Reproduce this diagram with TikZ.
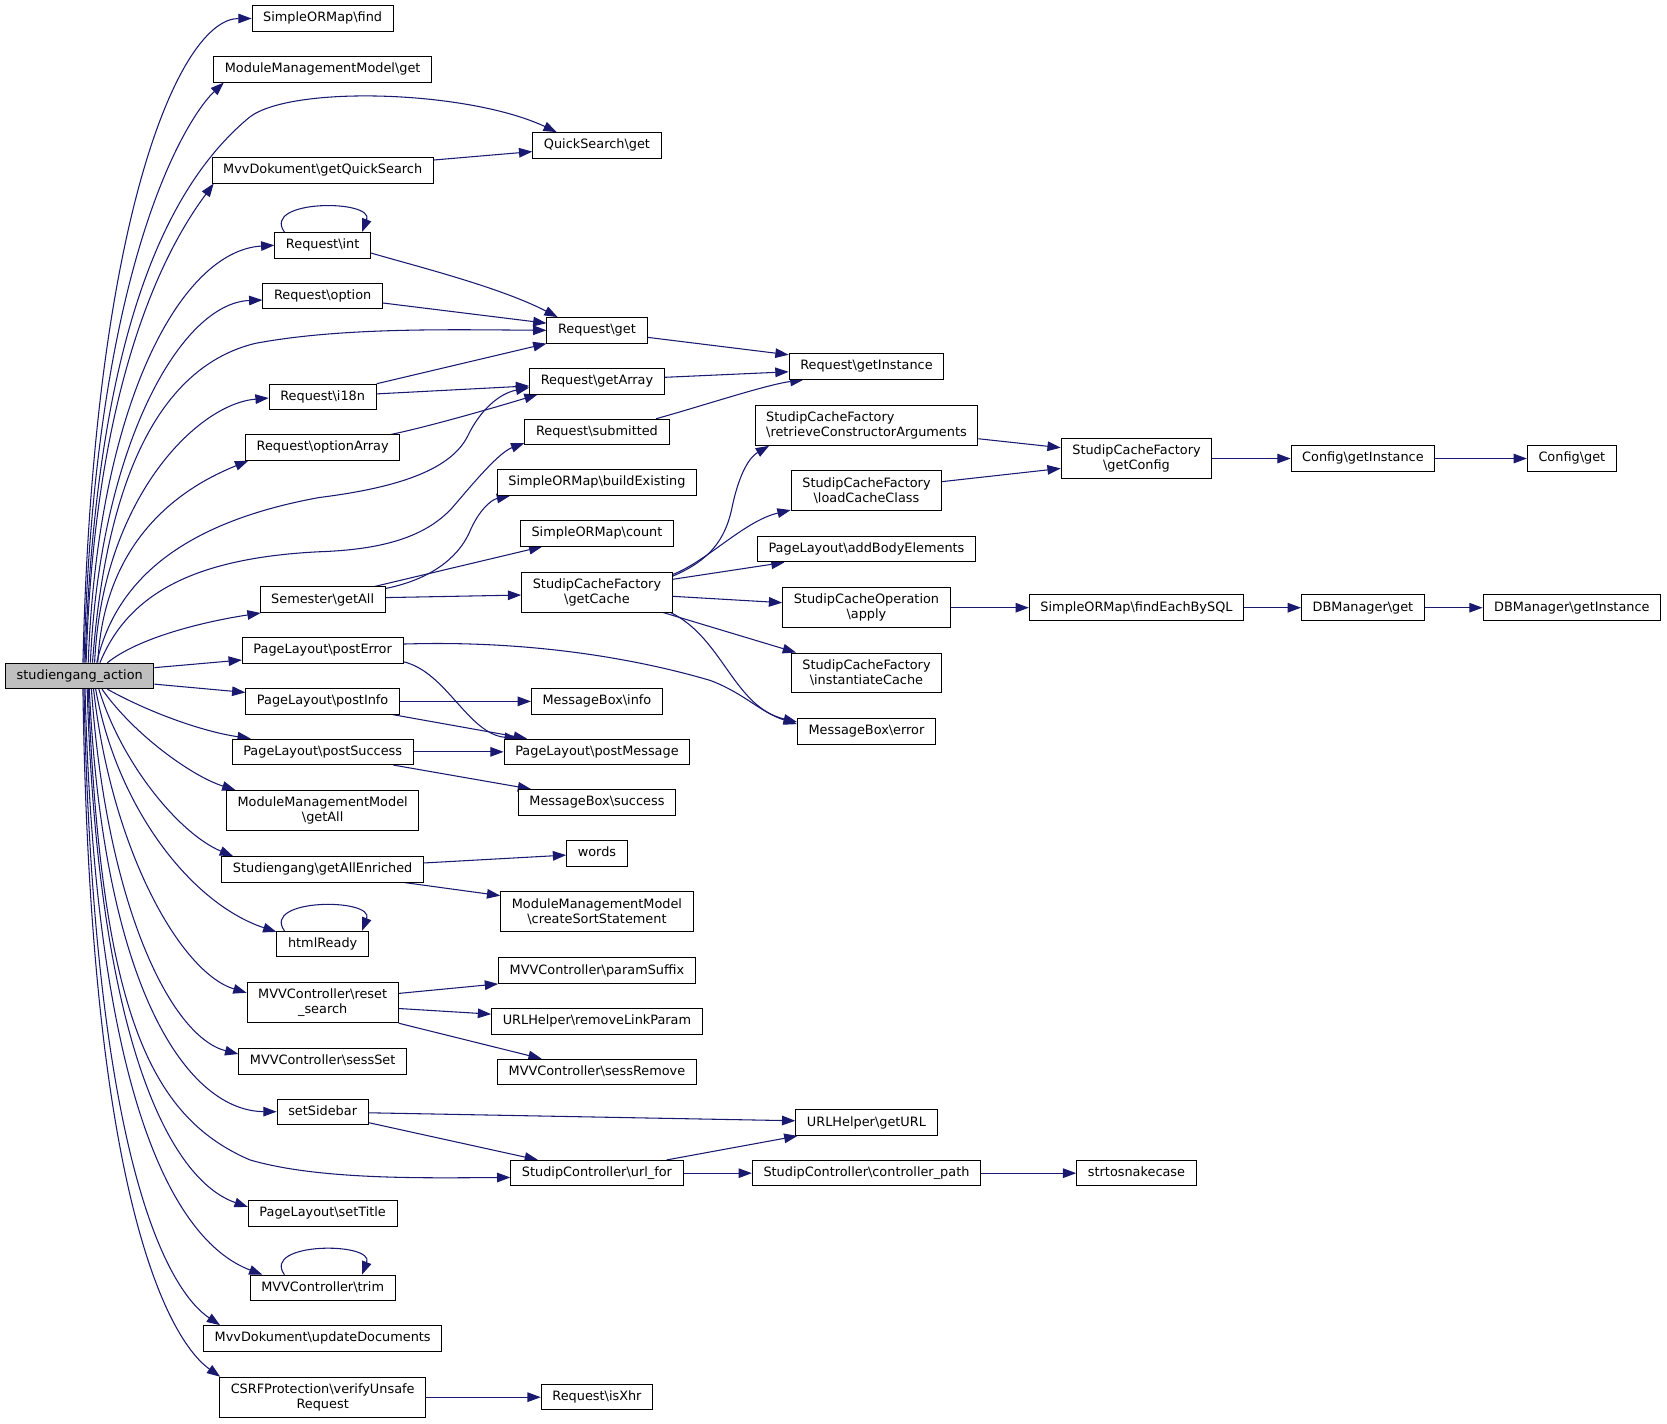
\documentclass[tikz,border=0pt]{standalone}
\usepackage{fontspec}
\setmainfont{DejaVu Sans}
\usetikzlibrary{arrows.meta,calc}
\pgfdeclarelayer{background}
\pgfsetlayers{background,main}
\definecolor{edgeblue}{HTML}{191970}
\definecolor{rootgray}{HTML}{BFBFBF}
\newcommand{\bs}{\textbackslash}
\tikzset{
  box/.style={draw=black, line width=0.9pt, fill=white, inner xsep=10.5pt, inner ysep=0pt,
    minimum height=24pt, text height=9.3pt, text depth=2.9pt,
    font=\fontsize{12.1pt}{14pt}\selectfont},
  boxtwo/.style={draw=black, line width=0.9pt, fill=white, inner xsep=10.5pt, inner ysep=0pt,
    minimum height=37.6pt, align=center, font=\fontsize{12.1pt}{14pt}\selectfont},
  edge/.style={draw=edgeblue, line width=1pt, -{Triangle[length=12.5pt,width=9pt]}}
}
\begin{document}
\begin{tikzpicture}[x=1pt,y=-1pt]
\useasboundingbox (0,0) rectangle (1568,1338.6);
% root
\node[box, fill=rootgray] (root) at (75,635.8) {studiengang\_action};
% column 1
\node[box] (find) at (303.5,17.4) {SimpleORMap\bs find};
\node[box] (mmget) at (303.5,65.2) {ModuleManagementModel\bs get};
\node[box] (getQS) at (303.5,160.2) {MvvDokument\bs getQuickSearch};
\node[box] (int) at (303.5,230.7) {Request\bs int};
\node[box] (option) at (303.5,278.2) {Request\bs option};
\node[box] (i18n) at (303.5,373.4) {Request\bs i18n};
\node[box] (optionArray) at (303.5,421) {Request\bs optionArray};
\node[box] (semGetAll) at (303.5,564.1) {Semester\bs getAll};
\node[box] (postError) at (303.5,611.8) {PageLayout\bs postError};
\node[box] (postInfo) at (303.5,659.7) {PageLayout\bs postInfo};
\node[box] (postSuccess) at (303.5,707.2) {PageLayout\bs postSuccess};
\node[boxtwo] (mmgetAll) at (303.5,762.4) {ModuleManagementModel\\\bs getAll};
\node[box] (enriched) at (303.5,817.7) {Studiengang\bs getAllEnriched};
\node[box] (htmlReady) at (303.5,888) {htmlReady};
\node[boxtwo] (reset) at (303.5,943.2) {MVVController\bs reset\\\_search};
\node[box] (sessSet) at (303.5,998.4) {MVVController\bs sessSet};
\node[box] (setSidebar) at (303.5,1045.7) {setSidebar};
\node[box] (setTitle) at (303.5,1141.2) {PageLayout\bs setTitle};
\node[box] (trim) at (303.5,1211.4) {MVVController\bs trim};
\node[box] (updateDocs) at (303.5,1258.9) {MvvDokument\bs updateDocuments};
\node[boxtwo] (verify) at (303.5,1314.2) {CSRFProtection\bs verifyUnsafe\\Request};
% column 2
\node[box] (QSget) at (561.5,136.7) {QuickSearch\bs get};
\node[box] (Rget) at (561.5,310.7) {Request\bs get};
\node[box] (getArray) at (561.5,358.6) {Request\bs getArray};
\node[box] (submitted) at (561.5,406.3) {Request\bs submitted};
\node[box] (buildExisting) at (561.5,453.9) {SimpleORMap\bs buildExisting};
\node[box] (count) at (561.5,501.7) {SimpleORMap\bs count};
\node[boxtwo] (getCache) at (561.5,556.9) {StudipCacheFactory\\\bs getCache};
\node[box] (mbInfo) at (561.5,659.7) {MessageBox\bs info};
\node[box] (postMessage) at (561.5,707.2) {PageLayout\bs postMessage};
\node[box] (mbSuccess) at (561.5,754.7) {MessageBox\bs success};
\node[box] (words) at (561.5,802.6) {words};
\node[boxtwo] (createSort) at (561.5,857.7) {ModuleManagementModel\\\bs createSortStatement};
\node[box] (paramSuffix) at (561.5,913) {MVVController\bs paramSuffix};
\node[box] (removeLink) at (561.5,960.6) {URLHelper\bs removeLinkParam};
\node[box] (sessRemove) at (561.5,1008.3) {MVVController\bs sessRemove};
\node[box] (urlfor) at (561.5,1103.5) {StudipController\bs url\_for};
\node[box] (isXhr) at (561.5,1314.2) {Request\bs isXhr};
% column 3
\node[box] (getInstance) at (815,344.7) {Request\bs getInstance};
\node[boxtwo, align=left] (retrieveCA) at (815,400.1) {StudipCacheFactory\\\bs retrieveConstructorArguments};
\node[boxtwo] (loadCache) at (815,461.5) {StudipCacheFactory\\\bs loadCacheClass};
\node[box] (addBody) at (815,516.5) {PageLayout\bs addBodyElements};
\node[boxtwo] (apply) at (815,571.6) {StudipCacheOperation\\\bs apply};
\node[boxtwo] (instCache) at (815,633) {StudipCacheFactory\\\bs instantiateCache};
\node[box] (mbError) at (815,688.1) {MessageBox\bs error};
\node[box] (getURL) at (815,1056) {URLHelper\bs getURL};
\node[box] (ctrlPath) at (815,1103.5) {StudipController\bs controller\_path};
% column 4
\node[boxtwo] (getConfig) at (1069,431.3) {StudipCacheFactory\\\bs getConfig};
\node[box] (findEach) at (1069,571.6) {SimpleORMap\bs findEachBySQL};
\node[box] (snake) at (1069,1103.5) {strtosnakecase};
% column 5
\node[box] (cfgInstance) at (1282,431.3) {Config\bs getInstance};
\node[box] (dbGet) at (1282,571.6) {DBManager\bs get};
% column 6
\node[box] (cfgGet) at (1478.5,431.3) {Config\bs get};
\node[box] (dbInstance) at (1478.5,571.6) {DBManager\bs getInstance};

\begin{pgfonlayer}{background}
% root, upward
\draw[edge] ($(root.north)+(3,0)$) .. controls (88,200) and (170,17.4) .. (find.west);
\draw[edge] ($(root.north)+(4,0)$) .. controls (89,240) and (178,108) .. ($(mmget.south west)+(10,0)$);
\draw[edge] ($(root.north)+(5,0)$) .. controls (90,330) and (150,180) .. (235,110) .. controls (275,80) and (440,85) .. ($(QSget.north west)+(23,0)$);
\draw[edge] ($(root.north)+(6,0)$) .. controls (90,330) and (170,215) .. ($(getQS.south west)+(2,0)$);
\draw[edge] ($(root.north)+(8,0)$) .. controls (92,380) and (170,236) .. (int.west);
\draw[edge] ($(root.north)+(10,0)$) .. controls (94,420) and (170,285) .. ($(option.west)+(0,4)$);
\draw[edge] ($(root.north)+(12,0)$) .. controls (100,450) and (150,345) .. (240,323) .. controls (320,308) and (420,310) .. (Rget.west);
\draw[edge] ($(root.north)+(14,0)$) .. controls (96,470) and (185,380) .. ($(i18n.west)+(0,1)$);
\draw[edge] ($(root.north)+(16,0)$) .. controls (110,540) and (180,490) .. (300,468) .. controls (380,458) and (425,440) .. (440,410) .. controls (452,385) and (470,370) .. ($(getArray.west)+(0,6)$);
\draw[edge] ($(root.north)+(17,0)$) .. controls (98,500) and (180,455) .. ($(optionArray.south west)+(3,0)$);
\draw[edge] ($(root.north)+(19,0)$) .. controls (120,560) and (180,525) .. (300,519) .. controls (360,517) and (400,505) .. (425,478) .. controls (439,462) and (468,426) .. ($(submitted.south west)+(0,-2)$);
\draw[edge] ($(root.north)+(26,0)$) .. controls (130,600) and (190,585) .. ($(semGetAll.south west)+(1,0)$);
% root, right
\draw[edge] ($(root.east)+(0,-7.8)$) -- ($(postError.west)+(0,9)$);
\draw[edge] ($(root.east)+(0,7.7)$) -- ($(postInfo.west)+(0,-8.4)$);
% root, downward
\draw[edge] ($(root.south)+(26,0)$) .. controls (140,670) and (190,688) .. ($(postSuccess.north west)+(18,0)$);
\draw[edge] ($(root.south)+(21,0)$) .. controls (125,690) and (180,730) .. ($(mmgetAll.north west)+(9,0)$);
\draw[edge] ($(root.south)+(18,0)$) .. controls (115,720) and (170,785) .. ($(enriched.north west)+(11,0)$);
\draw[edge] ($(root.south)+(15,0)$) .. controls (110,760) and (180,850) .. ($(htmlReady.north west)+(0,1)$);
\draw[edge] ($(root.south)+(13,0)$) .. controls (105,800) and (170,915) .. ($(reset.west)+(0,-9.4)$);
\draw[edge] ($(root.south)+(11,0)$) .. controls (100,850) and (160,975) .. ($(sessSet.west)+(0,-7)$);
\draw[edge] ($(root.south)+(9,0)$) .. controls (98,940) and (180,1045) .. (setSidebar.west);
\draw[edge] ($(root.south)+(8,0)$) .. controls (95,950) and (140,1050) .. (235,1091) .. controls (300,1110) and (400,1108) .. ($(urlfor.west)+(0,4)$);
\draw[edge] ($(root.south)+(7,0)$) .. controls (92,980) and (160,1110) .. ($(setTitle.west)+(0,-6)$);
\draw[edge] ($(root.south)+(5,0)$) .. controls (90,1050) and (170,1170) .. ($(trim.north west)+(12,0)$);
\draw[edge] ($(root.south)+(4,0)$) .. controls (88,1100) and (160,1215) .. ($(updateDocs.north west)+(16,0)$);
\draw[edge] ($(root.south)+(3,0)$) .. controls (85,1150) and (165,1265) .. ($(verify.north west)+(1,0)$);
% other edges
\draw[edge] ($(getQS.east)+(0,-9.7)$) -- ($(QSget.west)+(0,5.9)$);
\draw[edge] ($(int.north)+(-36,0)$) .. controls +(-22,-31) and +(12,-31) .. ($(int.north)+(37,0)$);
\draw[edge] ($(int.east)+(0,7.3)$) .. controls (390,250) and (470,270) .. ($(Rget.north west)+(10.5,0)$);
\draw[edge] ($(option.east)+(0,6.8)$) -- ($(Rget.west)+(0,-6.7)$);
\draw[edge] (i18n.north east) -- (Rget.south west);
\draw[edge] ($(i18n.east)+(0,-2.9)$) -- ($(getArray.west)+(0,4.4)$);
\draw[edge] ($(optionArray.north east)+(-8.4,0)$) .. controls (400,402) and (460,385) .. ($(getArray.south west)+(8,0)$);
\draw[edge] ($(Rget.east)+(0,6.6)$) -- ($(getInstance.west)+(0,-11)$);
\draw[edge] ($(getArray.east)+(0,-3.7)$) -- ($(getInstance.west)+(0,5)$);
\draw[edge] ($(submitted.north east)+(-12.6,0)$) .. controls (660,382) and (720,362) .. ($(getInstance.south west)+(14,0)$);
\draw[edge] ($(semGetAll.east)+(0,-10.6)$) .. controls (405,545) and (430,525) .. (441,502) .. controls (450,480) and (462,470) .. ($(buildExisting.south west)+(12.5,0)$);
\draw[edge] ($(semGetAll.north east)+(-10.5,0)$) -- ($(count.south west)+(21,0)$);
\draw[edge] ($(semGetAll.east)+(0,-2)$) -- ($(getCache.west)+(0,2.8)$);
\draw[edge] ($(getCache.north east)+(0,4.3)$) .. controls (660,530) and (680,515) .. (688,480) .. controls (695,445) and (705,430) .. ($(retrieveCA.south west)+(13.7,0)$);
\draw[edge] ($(getCache.north east)+(0,2.7)$) .. controls (665,528) and (700,490) .. ($(loadCache.south west)+(0,-1)$);
\draw[edge] ($(getCache.east)+(0,-12)$) -- ($(addBody.south west)+(26,0)$);
\draw[edge] ($(getCache.east)+(0,4)$) -- ($(apply.west)+(0,-4.7)$);
\draw[edge] ($(getCache.south east)+(-9,0)$) -- ($(instCache.north west)+(5,0)$);
\draw[edge] ($(getCache.south east)+(-2,0)$) .. controls (680,600) and (690,665) .. ($(mbError.west)+(0,-9)$);
\draw[edge] ($(postError.east)+(0,-6)$) .. controls (500,602) and (600,620) .. (668,640) .. controls (700,652) and (715,670) .. ($(mbError.west)+(0,-7)$);
\draw[edge] ($(postError.east)+(0,10.7)$) .. controls (420,632) and (440,690) .. ($(postMessage.north west)+(13.4,0)$);
\draw[edge] (postInfo.east) -- (mbInfo.west);
\draw[edge] ($(postInfo.south east)+(-7,0)$) -- ($(postMessage.north west)+(22,0)$);
\draw[edge] (postSuccess.east) -- (postMessage.west);
\draw[edge] ($(postSuccess.south east)+(-19,0)$) -- ($(mbSuccess.north west)+(12.5,0)$);
\draw[edge] ($(enriched.east)+(0,-6)$) -- ($(words.west)+(0,1.7)$);
\draw[edge] ($(enriched.south east)+(-18.3,0)$) -- ($(createSort.north west)+(0,4)$);
\draw[edge] ($(htmlReady.north)+(-36,0)$) .. controls +(-22,-31) and +(12,-31) .. ($(htmlReady.north)+(37,0)$);
\draw[edge] ($(reset.east)+(0,-8.8)$) -- (paramSuffix.south west);
\draw[edge] ($(reset.east)+(0,5.4)$) -- ($(removeLink.west)+(0,-6.7)$);
\draw[edge] (reset.south east) -- ($(sessRemove.north west)+(42,0)$);
\draw[edge] ($(setSidebar.east)+(0,1)$) -- ($(getURL.west)+(0,-1.8)$);
\draw[edge] ($(setSidebar.east)+(0,10.3)$) -- ($(urlfor.north west)+(26,0)$);
\draw[edge] ($(urlfor.north east)+(-16,0)$) -- ($(getURL.south west)+(2,0)$);
\draw[edge] (urlfor.east) -- (ctrlPath.west);
\draw[edge] (ctrlPath.east) -- (snake.west);
\draw[edge] ($(retrieveCA.east)+(0,12.6)$) -- ($(getConfig.west)+(0,-10.2)$);
\draw[edge] ($(loadCache.east)+(0,-8.5)$) -- ($(getConfig.west)+(0,9.3)$);
\draw[edge] (getConfig.east) -- (cfgInstance.west);
\draw[edge] (cfgInstance.east) -- (cfgGet.west);
\draw[edge] (apply.east) -- (findEach.west);
\draw[edge] (findEach.east) -- (dbGet.west);
\draw[edge] (dbGet.east) -- (dbInstance.west);
\draw[edge] ($(trim.north)+(-36,0)$) .. controls +(-22,-31) and +(12,-31) .. ($(trim.north)+(37,0)$);
\draw[edge] (verify.east) -- (isXhr.west);
\end{pgfonlayer}
\end{tikzpicture}
\end{document}
